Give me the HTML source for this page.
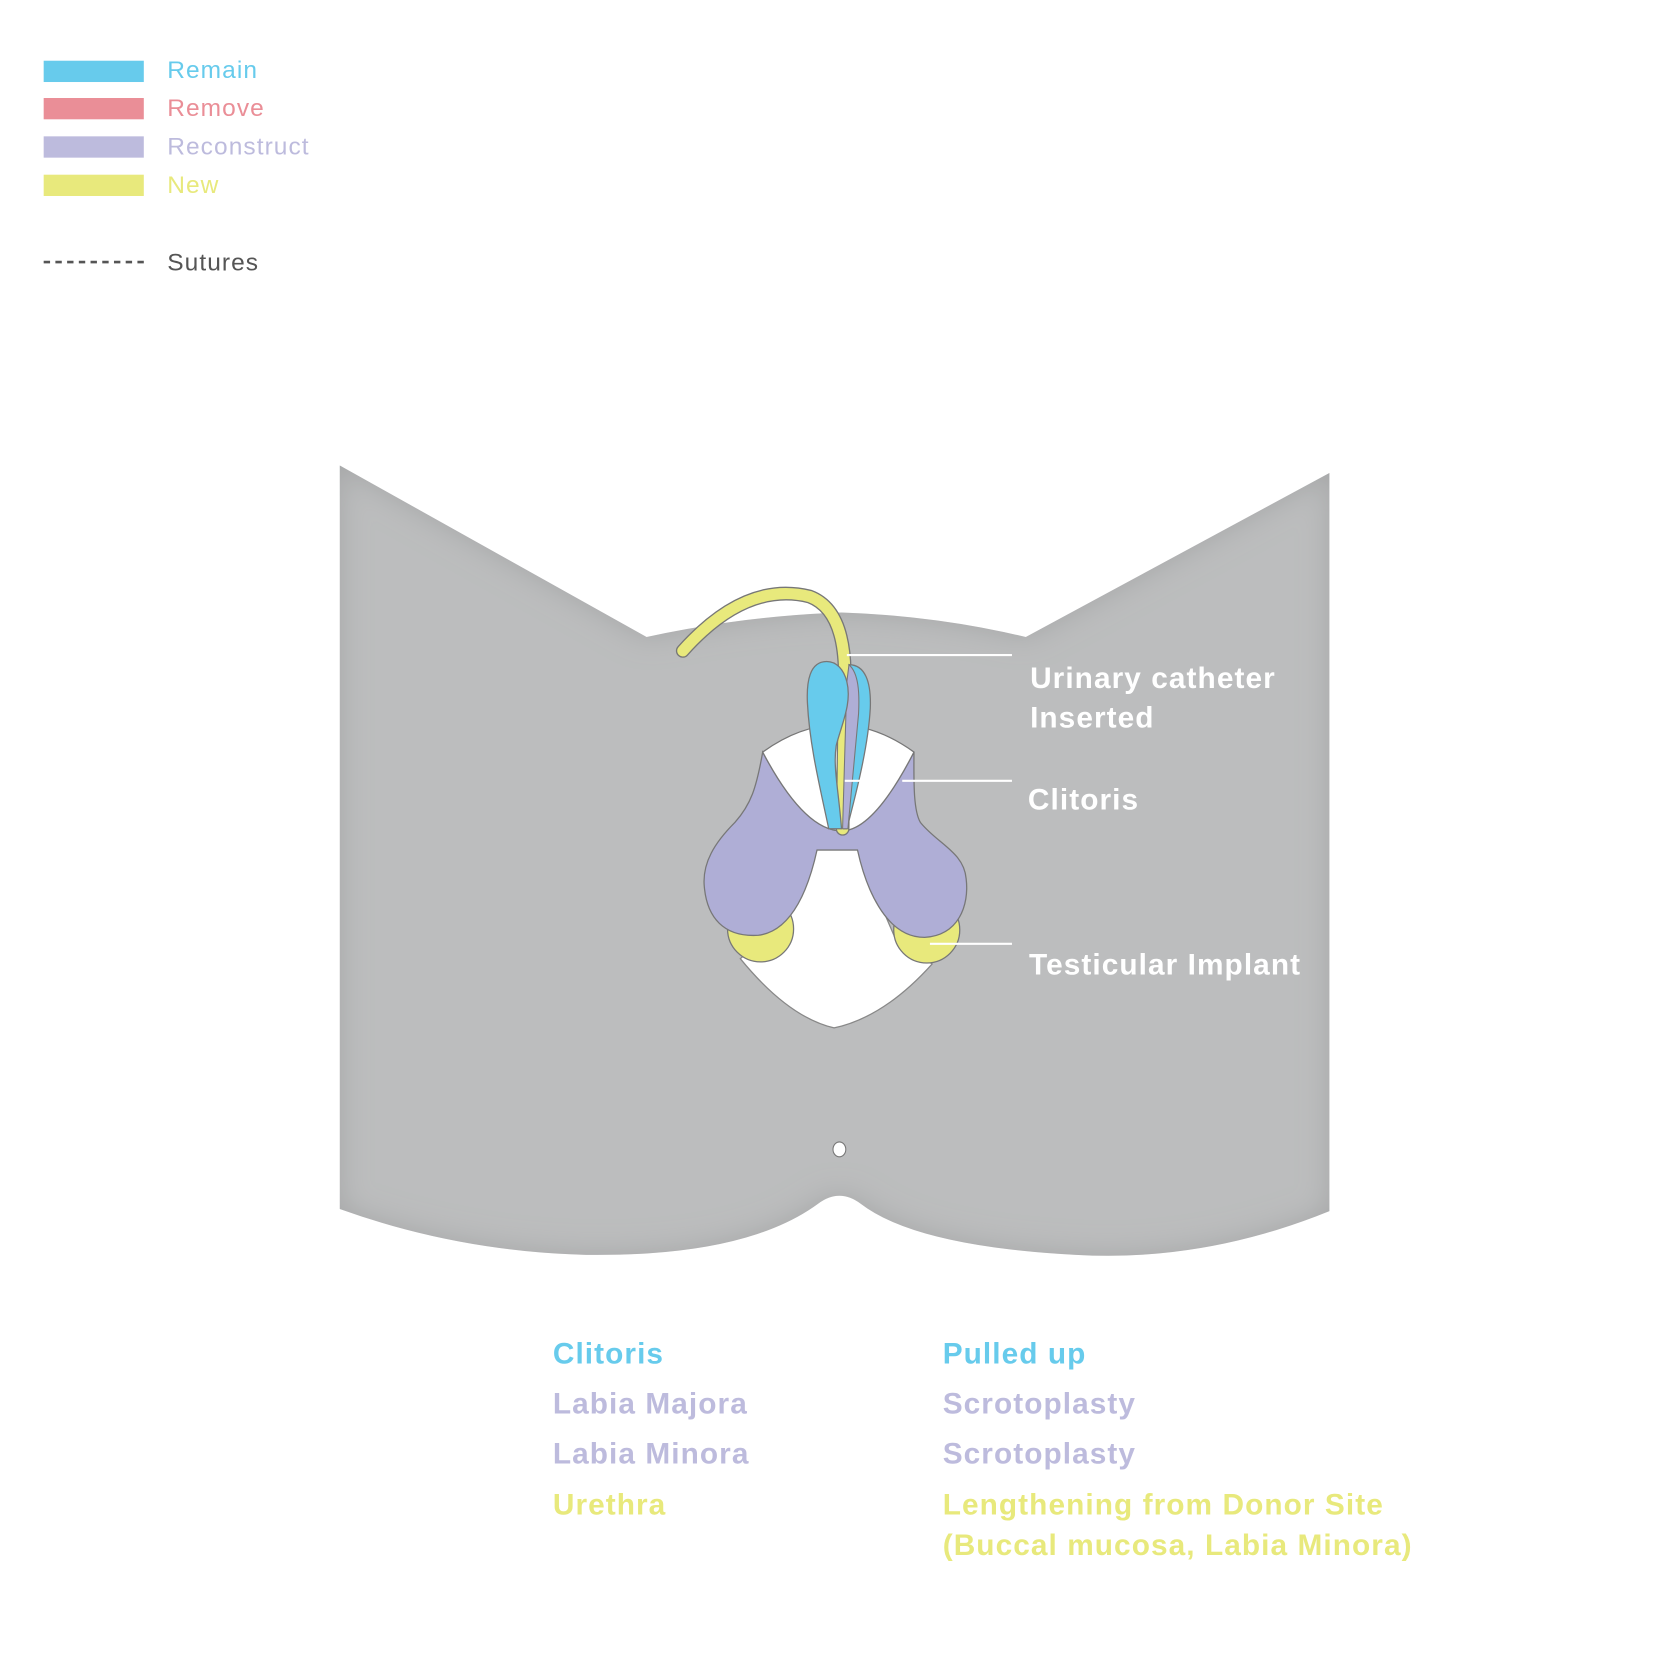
<!DOCTYPE html>
<html><head><meta charset="utf-8"><style>
html,body{margin:0;padding:0;background:#fff;}
svg{display:block;}
text{font-family:"Liberation Sans",sans-serif;}
</style></head><body>
<svg width="1666" height="1666" viewBox="0 0 1564 1564" xmlns="http://www.w3.org/2000/svg">
<defs>
<filter id="sh" x="-10%" y="-10%" width="120%" height="120%">
<feGaussianBlur in="SourceAlpha" stdDeviation="14" result="b"/>
<feComposite in="SourceAlpha" in2="b" operator="out" result="edge"/>
<feFlood flood-color="#8e8f90" flood-opacity="0.55"/>
<feComposite in2="edge" operator="in" result="s"/>
<feMerge><feMergeNode in="SourceGraphic"/><feMergeNode in="s"/></feMerge>
</filter>
</defs>
<!-- legend -->
<rect x="41" y="57" width="94" height="20" fill="#67cbec"/>
<rect x="41" y="92" width="94" height="20" fill="#ea8e97"/>
<rect x="41" y="128" width="94" height="20" fill="#bdbbdd"/>
<rect x="41" y="164" width="94" height="20" fill="#e8e97c"/>
<g font-size="23" letter-spacing="1">
<text x="157" y="73" fill="#67cbec">Remain</text>
<text x="157" y="109" fill="#ea8e97">Remove</text>
<text x="157" y="145" fill="#bdbbdd">Reconstruct</text>
<text x="157" y="181" fill="#e8e97c">New</text>
<text x="157" y="254" fill="#555">Sutures</text>
</g>
<line x1="41" y1="246" x2="135" y2="246" stroke="#555" stroke-width="2.5" stroke-dasharray="6,5"/>
<!-- body -->
<path filter="url(#sh)" fill="#bcbdbe" d="M319,437 L607,598 Q700,578 790,575 Q880,578 963,598 L1248,444 L1248,1137 Q1130,1185 1010,1178 Q860,1170 808,1130 Q788,1115 768,1130 Q700,1180 550,1178 Q430,1175 319,1135 Z"/>
<ellipse cx="788" cy="1079" rx="6" ry="7" fill="#fff" stroke="#777" stroke-width="1"/>
<!-- white lower -->
<path fill="#fff" stroke="#888" stroke-width="1.2" d="M767,798 L805,798 L840,880 L875,905 Q830,955 783,965 Q740,955 695,900 L730,870 Z"/>
<circle cx="714" cy="872" r="31" fill="#e8e97c" stroke="#777" stroke-width="1.2"/>
<circle cx="870" cy="873" r="31" fill="#e8e97c" stroke="#777" stroke-width="1.2"/>
<!-- lavender -->
<path fill="#afaed6" stroke="#777" stroke-width="1.2" d="M716,706 C710,740 705,755 690,772 C670,792 660,810 661,830 C663,862 680,880 712,878 C745,874 760,830 767,798 L805,798 C812,830 830,880 868,880 C900,878 910,850 907,825 C905,800 880,792 864,772 C857,760 858,730 858,706 Q820,780 790,780 Q755,780 716,706 Z"/>
<!-- white hood -->
<path fill="#fff" stroke="#777" stroke-width="1.2" d="M716,706 Q787,655 858,706 Q820,780 790,780 Q755,780 716,706 Z"/>
<!-- catheter -->
<path fill="none" stroke="#777" stroke-width="13" stroke-linecap="round" d="M641,611 Q700,545 760,560 Q792,572 793,630 L791,778"/>
<path fill="none" stroke="#e8e97c" stroke-width="10.5" stroke-linecap="round" d="M641,611 Q700,545 760,560 Q792,572 793,630 L791,778"/>
<!-- clitoris -->
<path fill="#67cbec" stroke="#777" stroke-width="1.2" d="M797,624 C812,624 818,640 817,665 C815,700 805,740 795,778 L792,778 C795,740 800,700 800,660 Z"/>
<path fill="#afaed6" stroke="#777" stroke-width="1" d="M797,624 C806,632 807,650 806,670 L796,778 L791,778 L795,640 Z"/>
<path fill="#67cbec" stroke="#777" stroke-width="1.2" d="M776,621 C760,621 757,640 758,660 C760,700 770,740 778,778 L790,778 C787,740 782,720 785,700 C790,680 800,660 795,640 C792,628 785,621 776,621 Z"/>
<!-- leader lines -->
<g stroke="#fff" stroke-width="2">
<line x1="795" y1="615" x2="950" y2="615"/>
<line x1="793" y1="733" x2="808" y2="733"/>
<line x1="847" y1="733" x2="950" y2="733"/>
<line x1="873" y1="886" x2="950" y2="886"/>
</g>
<g fill="#fff" font-size="28" font-weight="bold" letter-spacing="1">
<text x="967" y="646">Urinary catheter</text>
<text x="967" y="683">Inserted</text>
<text x="965" y="760">Clitoris</text>
<text x="966" y="915">Testicular Implant</text>
</g>
<g font-size="28" font-weight="bold" letter-spacing="1">
<text x="519" y="1280" fill="#67cbec">Clitoris</text>
<text x="519" y="1327" fill="#bdbbdd">Labia Majora</text>
<text x="519" y="1374" fill="#bdbbdd">Labia Minora</text>
<text x="519" y="1422" fill="#e8e97c">Urethra</text>
<text x="885" y="1280" fill="#67cbec">Pulled up</text>
<text x="885" y="1327" fill="#bdbbdd">Scrotoplasty</text>
<text x="885" y="1374" fill="#bdbbdd">Scrotoplasty</text>
<text x="885" y="1422" fill="#e8e97c">Lengthening from Donor Site</text>
<text x="885" y="1460" fill="#e8e97c">(Buccal mucosa, Labia Minora)</text>
</g>
</svg>
</body></html>
